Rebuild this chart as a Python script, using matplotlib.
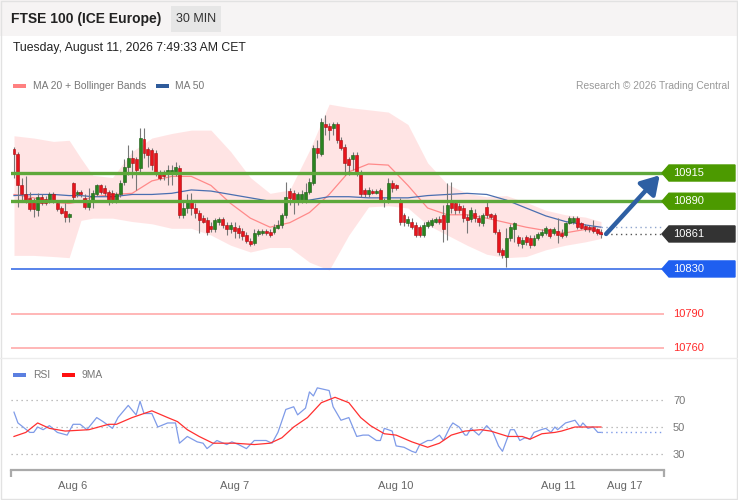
import numpy as np
import matplotlib
matplotlib.use("Agg")
import matplotlib.pyplot as plt
from matplotlib.patches import Rectangle, Polygon
from matplotlib import transforms as mtransforms

plt.rcParams['font.family'] = ['Liberation Sans', 'DejaVu Sans']

# ---- 30 min candles (Aug 5 evening -> Aug 11 morning)
opens = [10936, 10932, 10904, 10896, 10893, 10891, 10882, 10894, 10892, 10889,
         10896, 10888, 10884, 10881, 10876, 10906, 10896, 10898, 10893, 10885,
         10889, 10896, 10904, 10902, 10898, 10897, 10891, 10896, 10907, 10920,
         10928, 10927, 10919, 10945, 10936, 10935, 10933, 10915, 10916, 10915,
         10916, 10915, 10919, 10878, 10884, 10891, 10884, 10880, 10875, 10873,
         10868, 10865, 10872, 10874, 10869, 10865, 10867, 10866, 10864, 10860,
         10855, 10853, 10861, 10862, 10864, 10863, 10863, 10866, 10869, 10878,
         10899, 10897, 10889, 10891, 10891, 10898, 10906, 10937, 10932, 10958,
         10957, 10955, 10958, 10944, 10938, 10927, 10927, 10931, 10916, 10900,
         10896, 10899, 10897, 10900, 10891, 10890, 10906, 10904, 10891, 10878,
         10871, 10872, 10869, 10867, 10860, 10868, 10869, 10872, 10874, 10878,
         10872, 10889, 10888, 10886, 10884, 10876, 10874, 10880, 10875, 10871,
         10885, 10879, 10878, 10863, 10847, 10841, 10857, 10865, 10858, 10852,
         10858, 10857, 10851, 10857, 10860, 10862, 10865, 10862, 10864, 10862,
         10860, 10871, 10872, 10875, 10871, 10868, 10867, 10867, 10865, 10863]
closes = [10932, 10904, 10896, 10891, 10883, 10883, 10894, 10888, 10888, 10896,
          10889, 10883, 10880, 10876, 10879, 10894, 10898, 10896, 10885, 10891,
          10897, 10904, 10898, 10897, 10891, 10889, 10896, 10906, 10920, 10928,
          10924, 10918, 10946, 10933, 10931, 10922, 10915, 10911, 10912, 10918,
          10918, 10920, 10878, 10884, 10891, 10884, 10880, 10873, 10872, 10863,
          10865, 10873, 10874, 10869, 10865, 10869, 10864, 10862, 10859, 10855,
          10852, 10862, 10864, 10864, 10862, 10860, 10867, 10869, 10878, 10894,
          10893, 10891, 10896, 10896, 10898, 10907, 10937, 10933, 10960, 10956,
          10953, 10958, 10944, 10937, 10924, 10922, 10931, 10916, 10896, 10896,
          10900, 10897, 10899, 10891, 10889, 10906, 10902, 10902, 10872, 10872,
          10874, 10867, 10860, 10860, 10869, 10872, 10873, 10874, 10872, 10865,
          10887, 10884, 10882, 10882, 10875, 10873, 10882, 10875, 10872, 10878,
          10878, 10876, 10863, 10845, 10842, 10857, 10867, 10871, 10853, 10856,
          10854, 10851, 10857, 10861, 10863, 10866, 10859, 10865, 10860, 10859,
          10871, 10875, 10875, 10867, 10866, 10865, 10865, 10864, 10862, 10861]
highs = [10938, 10934, 10911, 10912, 10898, 10893, 10897, 10896, 10895, 10898,
         10898, 10890, 10886, 10888, 10880, 10907, 10900, 10900, 10896, 10902,
         10900, 10905, 10905, 10904, 10900, 10900, 10898, 10909, 10927, 10940,
         10935, 10929, 10955, 10955, 10938, 10937, 10935, 10918, 10918, 10922,
         10922, 10925, 10922, 10891, 10896, 10897, 10888, 10882, 10878, 10876,
         10872, 10875, 10876, 10876, 10872, 10872, 10872, 10869, 10866, 10863,
         10857, 10865, 10865, 10865, 10865, 10865, 10870, 10873, 10880, 10907,
         10902, 10900, 10898, 10900, 10906, 10911, 10940, 10944, 10964, 10966,
         10959, 10960, 10960, 10947, 10941, 10929, 10934, 10934, 10918, 10902,
         10903, 10901, 10901, 10902, 10893, 10911, 10909, 10905, 10893, 10880,
         10877, 10875, 10872, 10869, 10872, 10873, 10875, 10876, 10877, 10887,
         10906, 10907, 10891, 10888, 10887, 10879, 10885, 10883, 10878, 10880,
         10891, 10880, 10880, 10865, 10849, 10866, 10870, 10872, 10860, 10858,
         10860, 10860, 10860, 10863, 10865, 10868, 10866, 10867, 10875, 10865,
         10872, 10877, 10877, 10877, 10872, 10870, 10869, 10873, 10866, 10865]
lows = [10911, 10885, 10891, 10888, 10881, 10876, 10877, 10887, 10887, 10888,
        10888, 10881, 10879, 10872, 10872, 10891, 10894, 10894, 10883, 10882,
        10884, 10895, 10896, 10895, 10887, 10888, 10888, 10894, 10904, 10913,
        10911, 10900, 10916, 10928, 10920, 10918, 10912, 10909, 10909, 10904,
        10904, 10912, 10875, 10875, 10880, 10878, 10875, 10862, 10871, 10860,
        10863, 10863, 10869, 10866, 10860, 10862, 10857, 10857, 10856, 10853,
        10850, 10851, 10859, 10860, 10860, 10858, 10861, 10865, 10866, 10875,
        10887, 10879, 10887, 10888, 10888, 10896, 10904, 10928, 10930, 10949,
        10944, 10949, 10942, 10935, 10913, 10913, 10918, 10912, 10894, 10894,
        10894, 10896, 10896, 10889, 10885, 10888, 10898, 10900, 10869, 10868,
        10868, 10865, 10858, 10858, 10858, 10866, 10867, 10871, 10870, 10854,
        10856, 10880, 10879, 10880, 10872, 10862, 10872, 10872, 10868, 10868,
        10875, 10874, 10861, 10842, 10840, 10832, 10855, 10854, 10850, 10849,
        10851, 10849, 10850, 10856, 10858, 10860, 10857, 10860, 10853, 10857,
        10858, 10870, 10870, 10865, 10865, 10864, 10863, 10862, 10860, 10857]

# ---- indicators read at candle positions
ind_idx = [0, 5, 10, 14, 17, 20, 25, 30, 35, 40, 45, 50, 55, 60, 65, 70,
           75, 80, 85, 90, 95, 100, 105, 110, 115, 120, 125, 130, 135, 140, 145, 149]
bb_upper = [10948, 10946, 10943, 10944, 10928, 10913, 10911, 10934, 10946, 10950,
            10953, 10953, 10934, 10911, 10897, 10900, 10935, 10976, 10973, 10971,
            10969, 10958, 10924, 10905, 10897, 10894, 10895, 10889, 10882, 10878,
            10876, 10872]
bb_lower = [10842, 10842, 10841, 10840, 10873, 10875, 10875, 10872, 10870, 10866,
            10866, 10860, 10851, 10845, 10849, 10849, 10836, 10829, 10860, 10885,
            10886, 10884, 10869, 10860, 10851, 10843, 10840, 10841, 10847, 10851,
            10854, 10857]
ma20 = [10896, 10893, 10889, 10888, 10890, 10894, 10896, 10897, 10908, 10912,
        10912, 10904, 10888, 10875, 10867, 10871, 10880, 10896, 10916, 10923,
        10922, 10904, 10884, 10878, 10878, 10875, 10871, 10867, 10864, 10862,
        10865, 10863]
ma50 = [10895, 10896, 10896, 10895, 10895, 10894, 10894, 10896, 10896, 10897,
        10900, 10899, 10896, 10893, 10890, 10889, 10891, 10894, 10894, 10893,
        10893, 10893, 10895, 10896, 10897, 10896, 10891, 10884, 10877, 10872,
        10869, 10867]

rsi_idx = [0, 1, 2.3, 4, 5, 6, 7.4, 9, 11, 13.5, 15, 16.8, 18.5, 21, 22.6, 25, 26.4,
           29, 31, 32, 33, 35, 36.5, 39, 41, 42, 44, 46.5, 48, 49, 51.5, 54, 55.3,
           57, 59, 61, 64, 65.5, 67, 69, 71, 72, 74, 75, 76, 77, 80, 81, 83, 85,
           87, 88.6, 90, 92, 93, 94, 96, 97, 99, 101, 102, 103, 105, 106, 108, 109,
           110.7, 111.4, 113, 114.5, 115, 116, 118, 120, 121.6, 123, 124, 125.4,
           126, 127, 128.4, 129.7, 131, 132, 133.8, 135, 136.3, 137.3, 138, 140,
           142.4, 143.7, 144.4, 145.7, 147, 148.2, 149]
rsi = [61, 53, 50, 46, 46, 50, 48, 51, 46, 44, 52, 52, 48, 57, 54, 49, 57,
       66, 59, 69, 60, 60, 50, 53, 53, 38, 43, 39, 38, 34, 40, 37, 39,
       37, 34, 40, 40, 38, 46, 63, 65, 59, 64, 76, 73, 79, 77, 65, 55, 57,
       43, 44, 44, 40, 40, 49, 47, 36, 35, 32, 31, 37, 40, 40, 44, 40,
       50, 53, 50, 44, 44, 49, 44, 51, 46, 36, 32, 43,
       48, 48, 40, 42, 41, 46, 48, 49, 46, 50, 48, 53,
       55, 50, 53, 49, 50, 46, 46]
ma9_idx = [0, 3, 6, 9, 13, 19, 24, 26, 30, 35, 39, 41.5, 44, 47, 50.5, 56, 61,
           65, 68, 71, 74.5, 78, 81.5, 85, 88, 90.5, 94, 97, 101, 105, 108, 111,
           114.5, 118.5, 121, 125.4, 129, 131, 134, 137.3, 139, 142.4, 145.7, 149]
ma9 = [43, 46, 53, 49, 47, 48, 52, 52, 57, 62, 57, 54, 48, 43, 38, 38, 37,
       38, 42, 50, 57, 68, 72, 68, 57, 51, 45, 44, 39, 35, 38, 44,
       47, 48, 47, 43, 43, 41, 45, 46, 47, 50, 50, 50]

levels_tag = [10915, 10890, 10861, 10830]
tag_colors = ['#4c9a00', '#4c9a00', '#333333', '#1f5ff0']
levels_red = [10790, 10760]
rsi_levels = [70, 50, 30]
day_pos = [15.0, 56.1, 97.0, 138.1, 155.1]
day_labels = ['Aug 6', 'Aug 7', 'Aug 10', 'Aug 11', 'Aug 17']
target = 10913

W, H = 738, 500
fig = plt.figure(figsize=(W / 100, H / 100), dpi=100)
fig.patch.set_facecolor('white')


def fx(x):
    return x / W


def fy(y):
    return 1 - y / H


# background / frame layer in pixel coords
ov = fig.add_axes([0, 0, 1, 1])
ov.set_xlim(0, W)
ov.set_ylim(H, 0)
ov.axis('off')
ov.add_patch(Rectangle((0, 0), W, 36, color='#f6f4f4', lw=0))
ov.add_patch(Rectangle((171, 6), 50, 26, color='#e6e6e6', lw=0))
ov.add_patch(Rectangle((0.5, 0.5), W - 1.5, H - 2, fill=False, ec='#e2e2e2', lw=1))
ov.plot([0, W], [358, 358], color='#ececec', lw=1)
ov.text(11, 19, 'FTSE 100 (ICE Europe)', fontsize=10, weight='bold', color='#222', va='center')
ov.text(196, 19, '30 MIN', fontsize=9, color='#333', va='center', ha='center')
ov.text(13, 48, 'Tuesday, August 11, 2026 7:49:33 AM CET', fontsize=8.8, color='#222', va='center')
ov.add_patch(Rectangle((13, 84), 13, 4, color='#ff8080', lw=0))
ov.text(33, 86, 'MA 20 + Bollinger Bands', fontsize=7.4, color='#777', va='center')
ov.add_patch(Rectangle((156, 84), 13, 4, color='#2f5b9b', lw=0))
ov.text(175, 86, 'MA 50', fontsize=7.4, color='#777', va='center')
ov.text(729, 86, 'Research \u00a9 2026 Trading Central', fontsize=7.4, color='#999', va='center', ha='right')
ov.add_patch(Rectangle((13, 373), 13, 4, color='#5b7fe0', lw=0))
ov.text(33, 375, 'RSI', fontsize=7.4, color='#777', va='center')
ov.add_patch(Rectangle((62, 373), 13, 4, color='#ff1010', lw=0))
ov.text(82, 375, '9MA', fontsize=7.4, color='#777', va='center')

# ---- price panel
x0 = -0.76
x1 = 165.0
ax = fig.add_axes([fx(11), fy(356), fx(653), 261 / H])
ax.set_facecolor('none')
ax.set_xlim(x0, x1)
ax.set_ylim(10752.9, 10984.1)
ax.axis('off')

o = np.array(opens, float)
c = np.array(closes, float)
hi = np.array(highs, float)
lo = np.array(lows, float)
xi = np.arange(len(o))

ax.fill_between(ind_idx, bb_lower, bb_upper, color='#ffdcdc', alpha=0.75, lw=0, zorder=1)
ax.plot(ind_idx, ma20, color='#ff8a8a', lw=0.9, zorder=3)
ax.plot(ind_idx, ma50, color='#4a6fb0', lw=0.9, zorder=3)
ax.plot([ind_idx[-1], x1], [ma50[-1], ma50[-1]], color='#8ea4cc', lw=1, ls=(0, (1, 2.5)), zorder=3)

up = c >= o
ax.vlines(xi, lo, hi, color='#777777', lw=0.8, zorder=4)
body = np.maximum(np.abs(c - o), 0.9)
ax.bar(xi, body, bottom=np.minimum(o, c), width=0.75,
       color=np.where(up, '#2a8420', '#e8141c'),
       edgecolor=np.where(up, '#1c5a14', '#a50c10'), lw=0.4, zorder=4)

ax.plot([xi[-1], x1], [closes[-1], closes[-1]], color='#555', lw=1, ls=(0, (1, 2.5)), zorder=3)

for lv, col in zip(levels_tag, tag_colors):
    if col == '#4c9a00':
        ax.axhline(lv, color='#5ea83a', lw=2.4, zorder=5)
    elif lv == 10830:
        ax.axhline(lv, color='#4a7ae8', lw=1.3, zorder=5)
for lv in levels_red:
    ax.axhline(lv, color='#ffaaaa', lw=1.2, zorder=5)

# right hand tags
bt = mtransforms.blended_transform_factory(ax.transAxes, ax.transData)


def af(px):
    return (px - 11) / 653


hh = 7.1
for lv, col in zip(levels_tag, tag_colors):
    pts = [(af(662), lv), (af(669), lv + hh), (af(735), lv + hh),
           (af(735), lv - hh), (af(669), lv - hh)]
    ax.add_patch(Polygon(pts, closed=True, color=col, transform=bt, clip_on=False, zorder=6))
    ax.text(af(673), lv, str(lv), color='white', fontsize=8, va='center', ha='left',
            transform=bt, clip_on=False, zorder=7)
for lv in levels_red:
    ax.text(af(673), lv, str(lv), color='#ff2a2a', fontsize=8, va='center', ha='left',
            transform=bt, clip_on=False)

ax.annotate('', xy=(163.9, target), xytext=(150.3, closes[-1]),
            arrowprops=dict(arrowstyle='-|>,head_length=0.9,head_width=0.55',
                            color='#2e5fa3', lw=3.2, mutation_scale=12,
                            shrinkA=0, shrinkB=0), zorder=8)

# ---- RSI panel
ax2 = fig.add_axes([fx(11), fy(470), fx(653), 87 / H])
ax2.set_facecolor('none')
ax2.set_xlim(x0, x1)
ax2.set_ylim(18.15, 82.6)
for s in ['top', 'right', 'left']:
    ax2.spines[s].set_visible(False)
ax2.spines['bottom'].set_color('#aaaaaa')
ax2.spines['bottom'].set_linewidth(1.6)
ax2.set_yticks([])
bt2 = mtransforms.blended_transform_factory(ax2.transAxes, ax2.transData)
for lv in rsi_levels:
    ax2.axhline(lv, color='#aaaaaa', lw=0.9, ls=(0, (1, 3)))
    ax2.text(af(673), lv - 0.7, str(lv), transform=bt2,
             color='#777', fontsize=8, va='center', ha='left', clip_on=False)
ax2.plot(rsi_idx, rsi, color='#7f9be8', lw=0.9)
ax2.plot([rsi_idx[-1], x1], [rsi[-1], rsi[-1]], color='#7f9be8', lw=1, ls=(0, (1, 2.5)))
ax2.plot(ma9_idx, ma9, color='#ff3030', lw=0.9)
ax2.set_xticks(day_pos)
ax2.set_xticklabels(day_labels, fontsize=8, color='#666')
ax2.tick_params(axis='x', length=0, pad=8)
ax2.set_xticks([x0 + 0.1, x1 - 0.1], minor=True)
ax2.tick_params(axis='x', which='minor', length=5, width=1.6, color='#aaaaaa')

fig.savefig('out.png', dpi=100)
